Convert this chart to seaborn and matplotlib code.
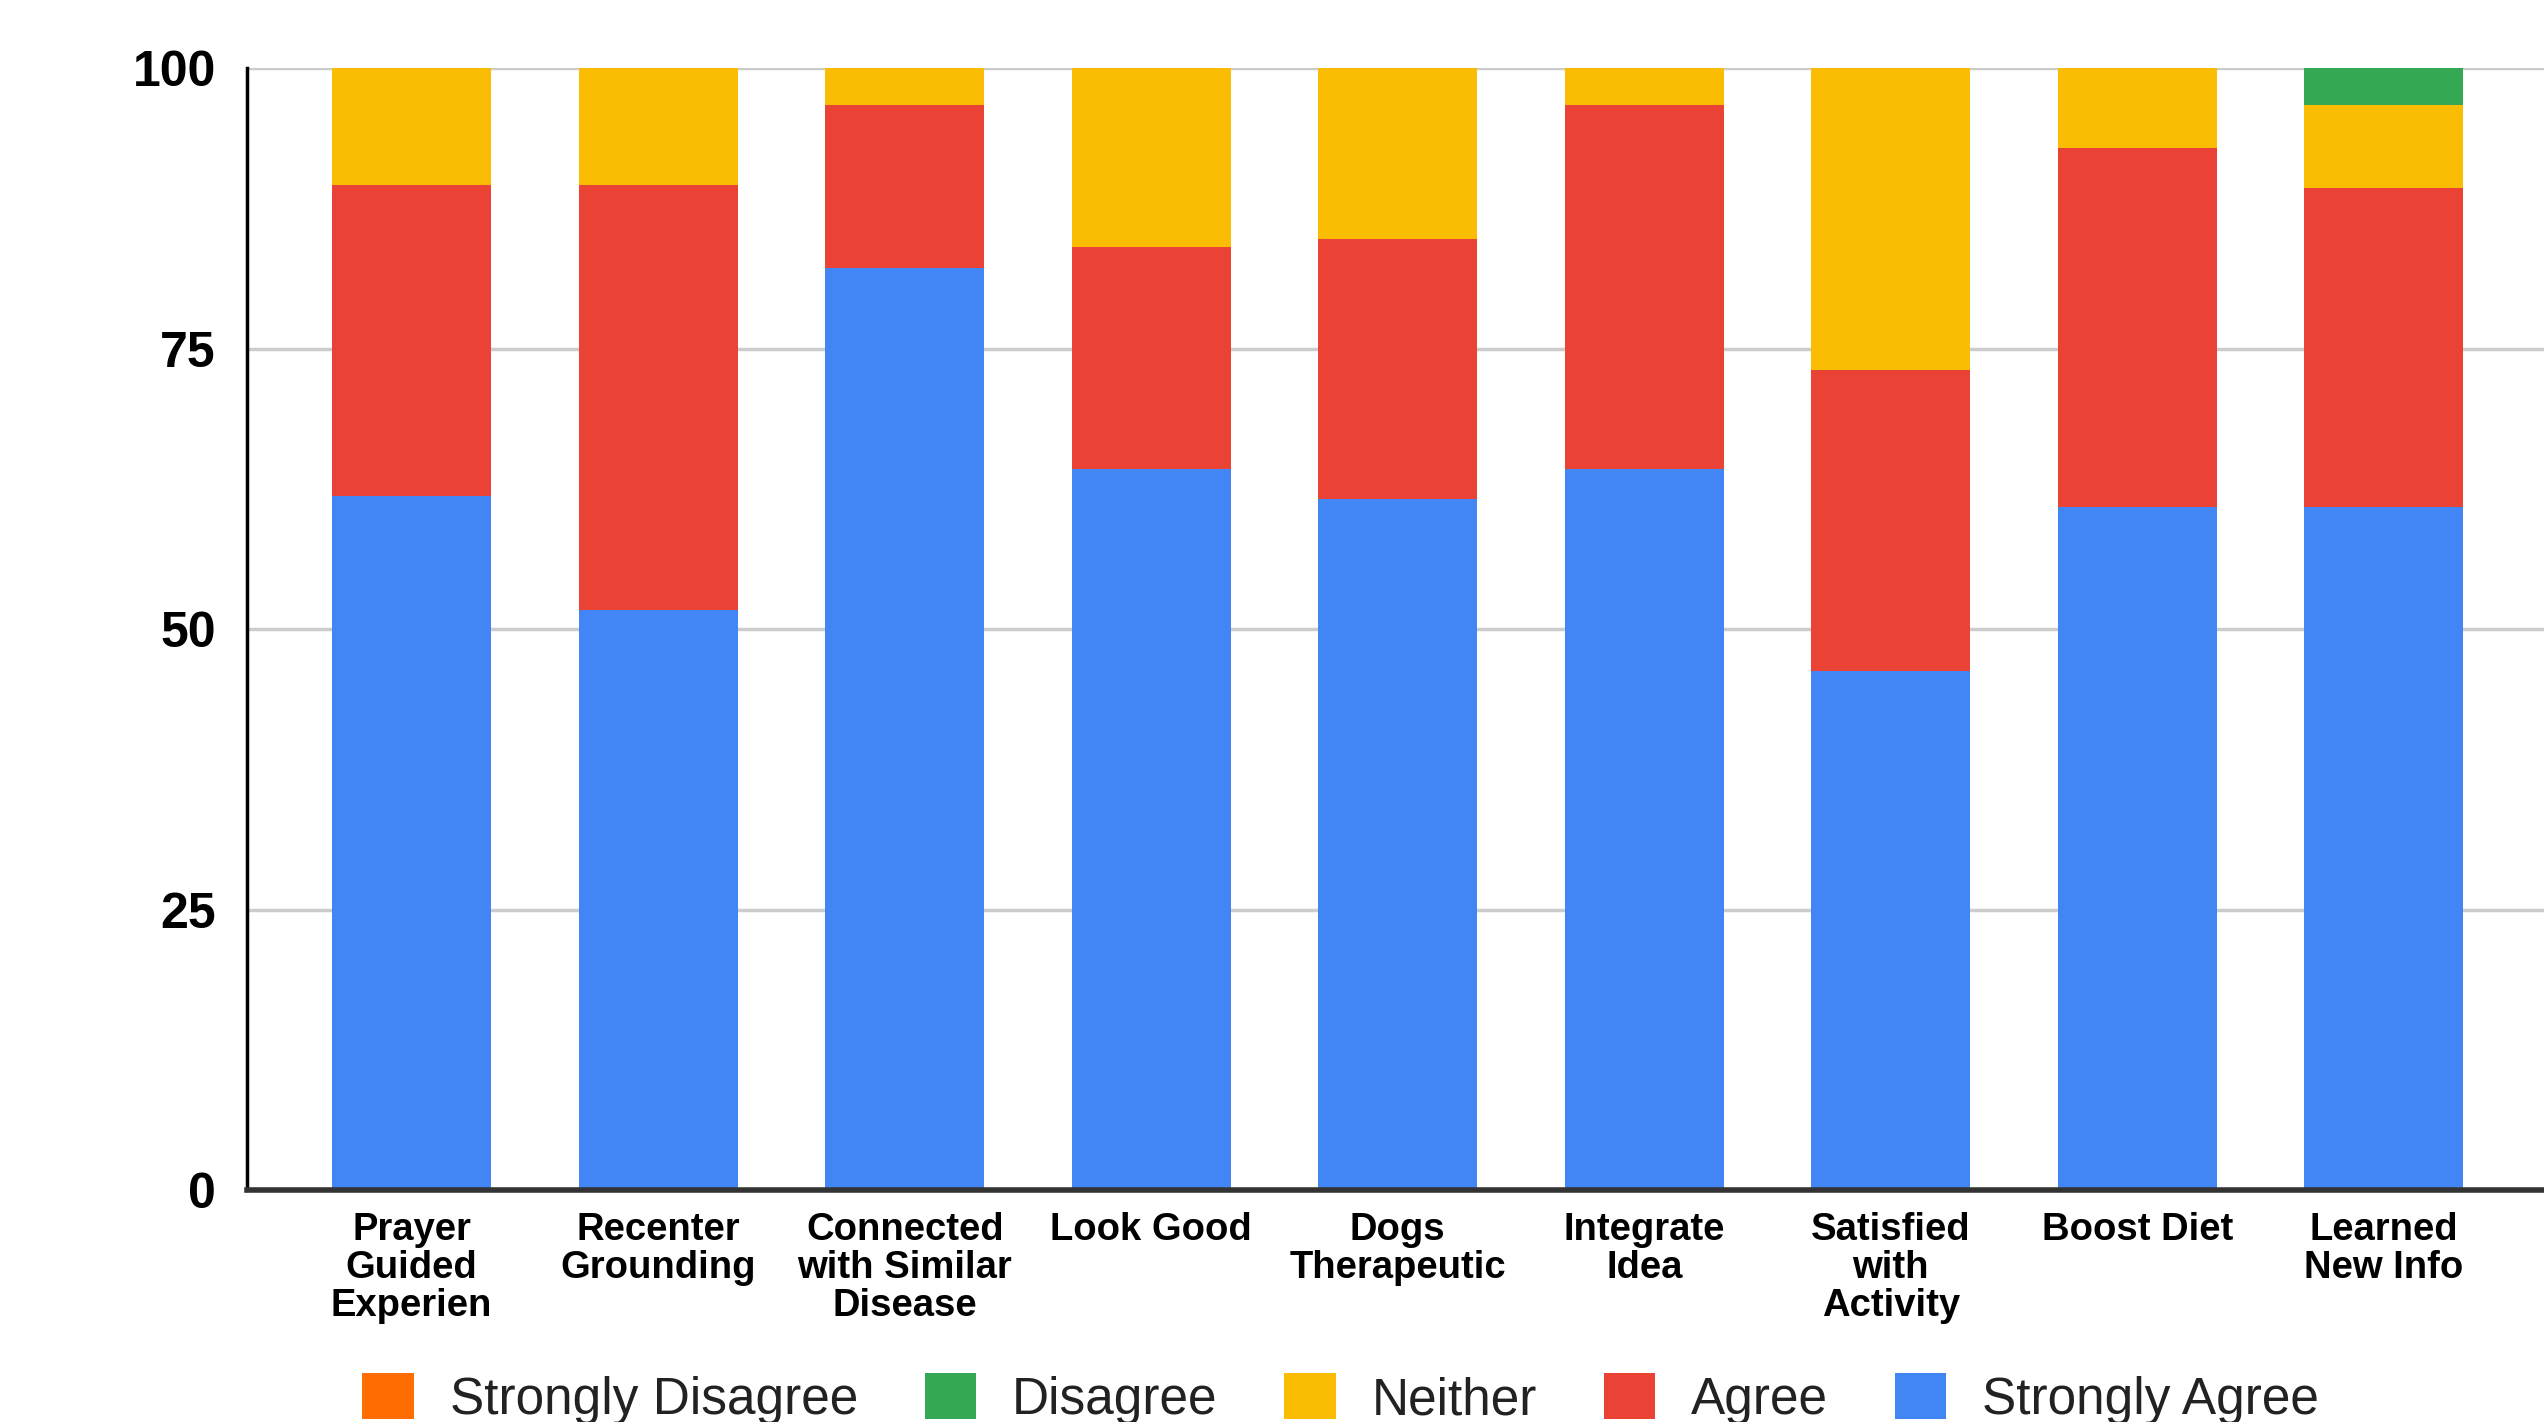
import matplotlib
matplotlib.use("Agg")
import matplotlib.pyplot as plt
import seaborn as sns
import pandas as pd
import numpy as np
from matplotlib.patches import Patch

categories = ["Prayer\nGuided\nExperien", "Recenter\nGrounding", "Connected\nwith Similar\nDisease",
              "Look Good", "Dogs\nTherapeutic", "Integrate\nIdea", "Satisfied\nwith\nActivity",
              "Boost Diet", "Learned\nNew Info"]
strongly_agree = [61.9, 51.7, 82.2, 64.3, 61.6, 64.3, 46.3, 60.9, 60.9]
agree = [27.7, 37.9, 14.5, 19.8, 23.2, 32.4, 26.8, 32.0, 28.4]
neither = [10.4, 10.4, 3.3, 15.9, 15.2, 3.3, 26.9, 7.1, 7.4]
disagree = [0, 0, 0, 0, 0, 0, 0, 0, 3.3]
strongly_disagree = [0, 0, 0, 0, 0, 0, 0, 0, 0]

series_names = ["Strongly Disagree", "Disagree", "Neither", "Agree", "Strongly Agree"]
colors = {"Strongly Disagree": "#FF6D01", "Disagree": "#34A853", "Neither": "#FBBC04",
          "Agree": "#EA4335", "Strongly Agree": "#4285F4"}

sns.set_theme(style="white")
plt.rcParams['font.family'] = ['Liberation Sans', 'DejaVu Sans']

# stacking order from bottom: SA, A, N, D, SD
stack_order = ["Strongly Agree", "Agree", "Neither", "Disagree", "Strongly Disagree"]
vals = {"Strongly Agree": strongly_agree, "Agree": agree, "Neither": neither,
        "Disagree": disagree, "Strongly Disagree": strongly_disagree}
cum = np.zeros(len(categories))
cums = {}
for s in stack_order:
    cum = cum + np.array(vals[s])
    cums[s] = cum.copy()

fig = plt.figure(figsize=(25.44, 14.22), dpi=100)
ax = fig.add_axes([0.0969, 0.1632, 0.9031, 0.7888])

for s in reversed(stack_order):
    if np.sum(vals[s]) <= 0:
        continue
    df = pd.DataFrame({"cat": categories, "val": cums[s]})
    sns.barplot(data=df, x="cat", y="val", order=categories, color=colors[s],
                saturation=1, width=0.645, ax=ax, linewidth=0, zorder=3)

ax.set_ylim(0, 100)
ax.set_xlim(-0.67, 8.65)
ax.set_yticks([0, 25, 50, 75, 100])
ax.set_yticklabels(["0", "25", "50", "75", "100"], fontsize=36, fontweight="bold", color="#000000")
ax.set_xticks(range(len(categories)))
ax.set_xticklabels(categories, fontsize=27.5, fontweight="bold", color="#000000", linespacing=1.06,
                   va="top")
ax.tick_params(axis="y", length=0, pad=22)
ax.tick_params(axis="x", length=0, pad=16)
ax.set_xlabel("")
ax.set_ylabel("")
ax.yaxis.grid(True, color="#cccccc", linewidth=2.5, zorder=0)
ax.set_axisbelow(True)
for sp in ["top", "right"]:
    ax.spines[sp].set_visible(False)
ax.spines["left"].set_color("#000000")
ax.spines["left"].set_linewidth(2.5)
ax.spines["bottom"].set_color("#333333")
ax.spines["bottom"].set_linewidth(4)
ax.spines["bottom"].set_zorder(4)

handles = [Patch(facecolor=colors[s], edgecolor="none") for s in series_names]
leg = fig.legend(handles, series_names, loc="center", bbox_to_anchor=(0.527, 0.016), ncol=5,
                 frameon=False, fontsize=37, handlelength=1.0, handleheight=1.0,
                 handletextpad=0.7, columnspacing=1.3)
for t in leg.get_texts():
    t.set_color("#222222")

fig.savefig("out.png", dpi=100)
